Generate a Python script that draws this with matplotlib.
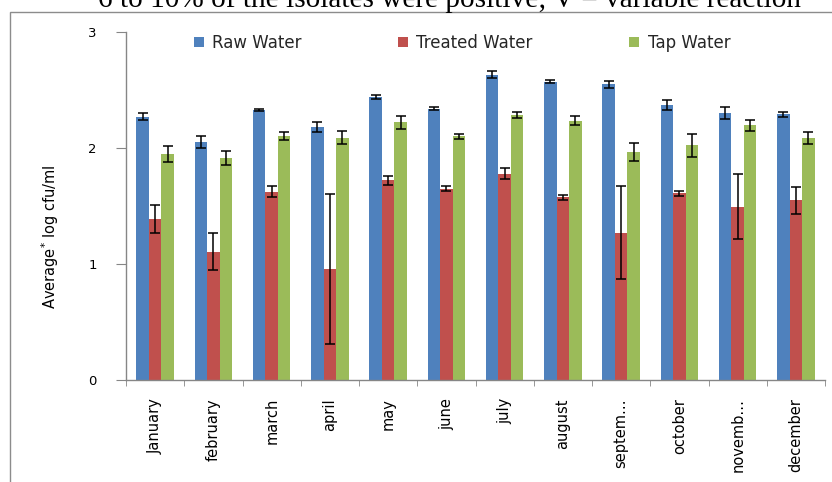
import numpy as np
import matplotlib
matplotlib.use("Agg")
import matplotlib.pyplot as plt
from matplotlib.patches import Rectangle, Patch

months = ["January", "february", "march", "april", "may", "june", "july",
          "august", "septem\u2026", "october", "novemb\u2026", "december"]
raw = [2.27, 2.05, 2.33, 2.18, 2.44, 2.34, 2.63, 2.57, 2.55, 2.37, 2.30, 2.29]
raw_err = [0.03, 0.05, 0.01, 0.04, 0.015, 0.013, 0.03, 0.013, 0.03, 0.043, 0.05, 0.02]
treated = [1.385, 1.105, 1.625, 0.955, 1.72, 1.65, 1.78, 1.575, 1.27, 1.61, 1.495, 1.55]
treated_err = [0.12, 0.16, 0.045, 0.645, 0.035, 0.022, 0.05, 0.022, 0.40, 0.023, 0.28, 0.115]
tap = [1.95, 1.91, 2.10, 2.09, 2.22, 2.10, 2.285, 2.235, 1.965, 2.025, 2.195, 2.085]
tap_err = [0.07, 0.06, 0.035, 0.055, 0.06, 0.025, 0.025, 0.037, 0.08, 0.10, 0.045, 0.05]
series_names = ["Raw Water", "Treated Water", "Tap Water"]
colors = ["#4F81BD", "#C0504D", "#9BBB59"]
top_text = "6 to 10% of the isolates were positive; V = variable reaction"

W, H = 832, 482
fig = plt.figure(figsize=(W / 100, H / 100), dpi=100)
ax = fig.add_axes([126 / W, 1 - 380 / H, (825 - 126) / W, (380 - 32) / H])

x = np.arange(len(months))
bw = 0.215
gray = "#868686"
for k, (vals, errs) in enumerate([(raw, raw_err), (treated, treated_err), (tap, tap_err)]):
    pos = x + (k - 1) * bw
    ax.bar(pos, vals, width=bw, color=colors[k], edgecolor="none", zorder=2,
           label=series_names[k])
    ax.errorbar(pos, vals, yerr=errs, fmt="none", ecolor="black", elinewidth=1.1,
                capsize=3.3, capthick=1.1, zorder=3)

ax.set_xlim(-0.5, len(months) - 0.5)
ax.set_ylim(0, 3)
ax.set_yticks([0, 1, 2, 3])
ax.set_yticklabels(["0", "1", "2", "3"])
ax.set_xticks(x)
ax.set_xticklabels(months, rotation=90, va="top", ha="center", fontsize=10.5)
ax.set_xticks(np.arange(-0.5, len(months), 1), minor=True)
ax.tick_params(axis="x", which="major", length=0, pad=13)
ax.tick_params(axis="x", which="minor", length=4, color=gray, direction="out")
ax.tick_params(axis="y", length=7.5, color=gray, direction="out", pad=13.5, labelsize=9.5)
for s in ["top", "right"]:
    ax.spines[s].set_visible(False)
for s in ["left", "bottom"]:
    ax.spines[s].set_color(gray)
    ax.spines[s].set_linewidth(1.0)

fig.text(50 / W, 1 - 237 / H, "Average$^{*}$ log cfu/ml", rotation=90,
         ha="center", va="center", fontsize=10.5)

handles = [Patch(facecolor=c, edgecolor="none") for c in colors]
leg = ax.legend(handles, series_names, ncol=3, frameon=False, loc="center",
                bbox_to_anchor=(462 / W, 1 - 43 / H), bbox_transform=fig.transFigure,
                fontsize=12, handlelength=0.6, handleheight=0.6, handletextpad=0.5,
                columnspacing=5.8)
for txt in leg.get_texts():
    txt.set_color("#262626")

# outer chart border (extends beyond the image)
fig.add_artist(Rectangle((10 / W, -0.1), 1.2, 1 - 12 / H + 0.1, transform=fig.transFigure,
                         fill=False, edgecolor="#8c8c8c", linewidth=1.0))

# cropped caption from surrounding document
t = fig.text(98 / W, 1 - 7 / H, top_text, family="Liberation Serif", fontsize=18,
             ha="left", va="baseline")
fig.canvas.draw()
r = fig.canvas.get_renderer()
wpx = t.get_window_extent(r).width
t.set_fontsize(18 * (800 - 98) / wpx)

fig.savefig("out.png", dpi=100)
